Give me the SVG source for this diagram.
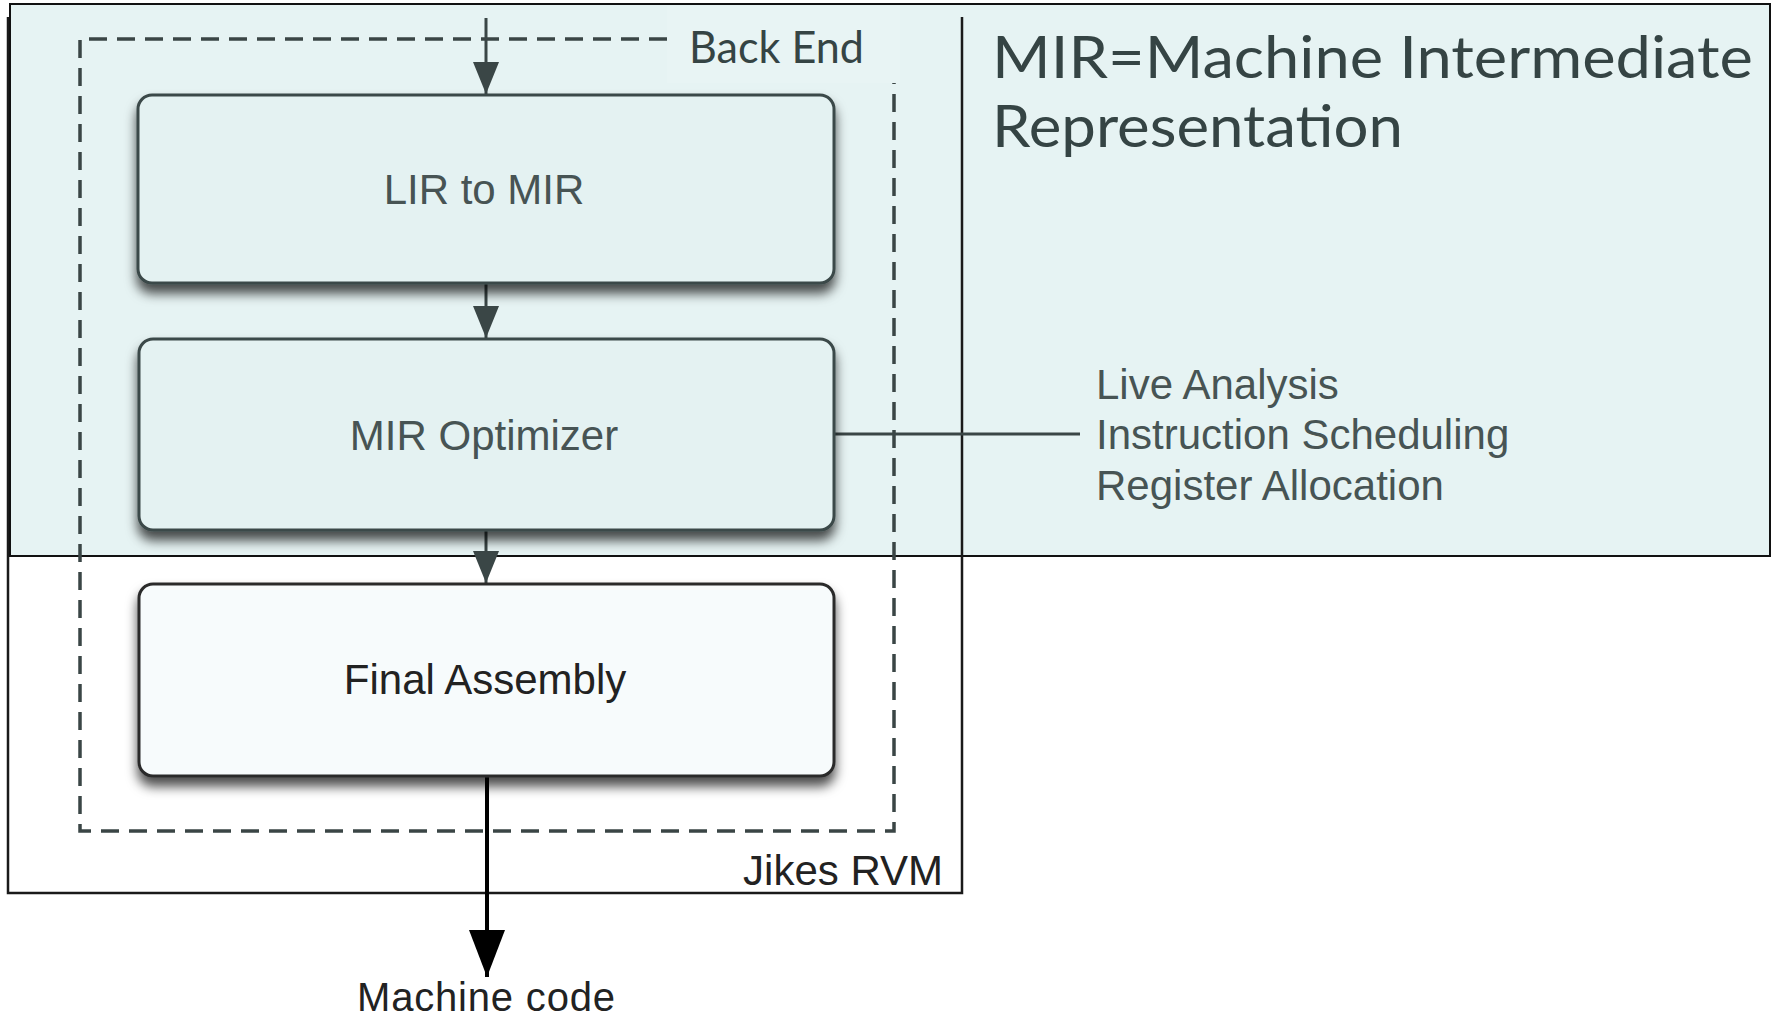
<svg xmlns="http://www.w3.org/2000/svg" width="1777" height="1020" viewBox="0 0 1777 1020">
  <style>
    .box { stroke: #3b4848; stroke-width: 3; }
    .lbl { font-family: "Liberation Sans", Arial, sans-serif; font-size: 42px; text-anchor: middle; fill: #475454; }
    .note { font-family: "Liberation Sans", Arial, sans-serif; font-size: 42px; fill: #475454; }
    .dark { fill: #222; }
    .hand { font-family: Lato, "Open Sans", sans-serif; fill: #354444; }
    .flow { stroke: #3a4646; stroke-width: 3; fill: none; }
  </style>
  <defs>
    <filter id="shadow" x="-10%" y="-15%" width="120%" height="140%">
      <feDropShadow dx="0" dy="9" stdDeviation="6" flood-color="#000" flood-opacity="0.7"/>
    </filter>
    <marker id="head" viewBox="0 0 32 26" refX="32" refY="13" markerWidth="32" markerHeight="26" markerUnits="userSpaceOnUse" orient="auto">
      <path d="M0,0 L32,13 L0,26 z" fill="#3a4646"/>
    </marker>
    <marker id="bighead" viewBox="0 0 47 36" refX="47" refY="18" markerWidth="47" markerHeight="36" markerUnits="userSpaceOnUse" orient="auto">
      <path d="M0,0 L47,18 L0,36 z" fill="#000"/>
    </marker>
  </defs>

  <rect width="1777" height="1020" fill="#ffffff"/>

  <!-- highlighted back-end region -->
  <rect id="highlight" x="10" y="4" width="1760" height="552" fill="#e6f3f3" stroke="#111" stroke-width="2"/>

  <!-- Jikes RVM enclosure (top edge runs off the top) -->
  <g id="jikes">
    <path d="M8,17 V893 H962 V17" fill="none" stroke="#1a1a1a" stroke-width="2.5"/>
    <text class="note dark" x="943" y="885" text-anchor="end">Jikes RVM</text>
  </g>

  <!-- Back End dashed boundary -->
  <g id="backend">
    <path d="M667,39 H80 V831 H894 V83" fill="none" stroke="#3a4545" stroke-width="3.5" stroke-dasharray="18 10"/>
    <rect x="667" y="6" width="233" height="77" fill="#e8f4f4"/>
    <text class="hand" x="689" y="63" font-size="44" textLength="175" lengthAdjust="spacingAndGlyphs">Back End</text>
  </g>

  <g id="connectors">
    <line class="flow" x1="486" y1="18" x2="486" y2="94" marker-end="url(#head)"/>
    <line class="flow" x1="486" y1="284" x2="486" y2="338" marker-end="url(#head)"/>
    <line class="flow" x1="486" y1="531" x2="486" y2="583" marker-end="url(#head)"/>
    <line x1="487" y1="776" x2="487" y2="977" stroke="#000" stroke-width="4" marker-end="url(#bighead)"/>
    <line class="flow" x1="834" y1="434" x2="1080" y2="434"/>
  </g>

  <g id="lir-to-mir">
    <rect class="box" x="138" y="95" width="696" height="188" rx="14" fill="#e4f2f2" filter="url(#shadow)"/>
    <text class="lbl" x="484" y="204">LIR to MIR</text>
  </g>

  <g id="mir-optimizer">
    <rect class="box" x="139" y="339" width="695" height="191" rx="14" fill="#e4f2f2" filter="url(#shadow)"/>
    <text class="lbl" x="484" y="450">MIR Optimizer</text>
  </g>

  <g id="final-assembly">
    <rect class="box" x="139" y="584" width="695" height="192" rx="14" fill="#f7fbfc" style="stroke:#2a2a2a" filter="url(#shadow)"/>
    <text class="lbl dark" x="485" y="694">Final Assembly</text>
  </g>

  <g id="optimizer-passes">
    <text class="note" x="1096" y="399">Live Analysis</text>
    <text class="note" x="1096" y="449">Instruction Scheduling</text>
    <text class="note" x="1096" y="500">Register Allocation</text>
  </g>

  <g id="machine-code">
    <text class="lbl dark" x="486" y="1011" style="font-size:40px" textLength="258" lengthAdjust="spacing">Machine code</text>
  </g>

  <g id="mir-definition">
    <text class="hand" x="992" y="78" font-size="58" textLength="761" lengthAdjust="spacingAndGlyphs">MIR=Machine Intermediate</text>
    <text class="hand" x="992" y="147" font-size="58" textLength="411" lengthAdjust="spacingAndGlyphs">Representation</text>
  </g>
</svg>
